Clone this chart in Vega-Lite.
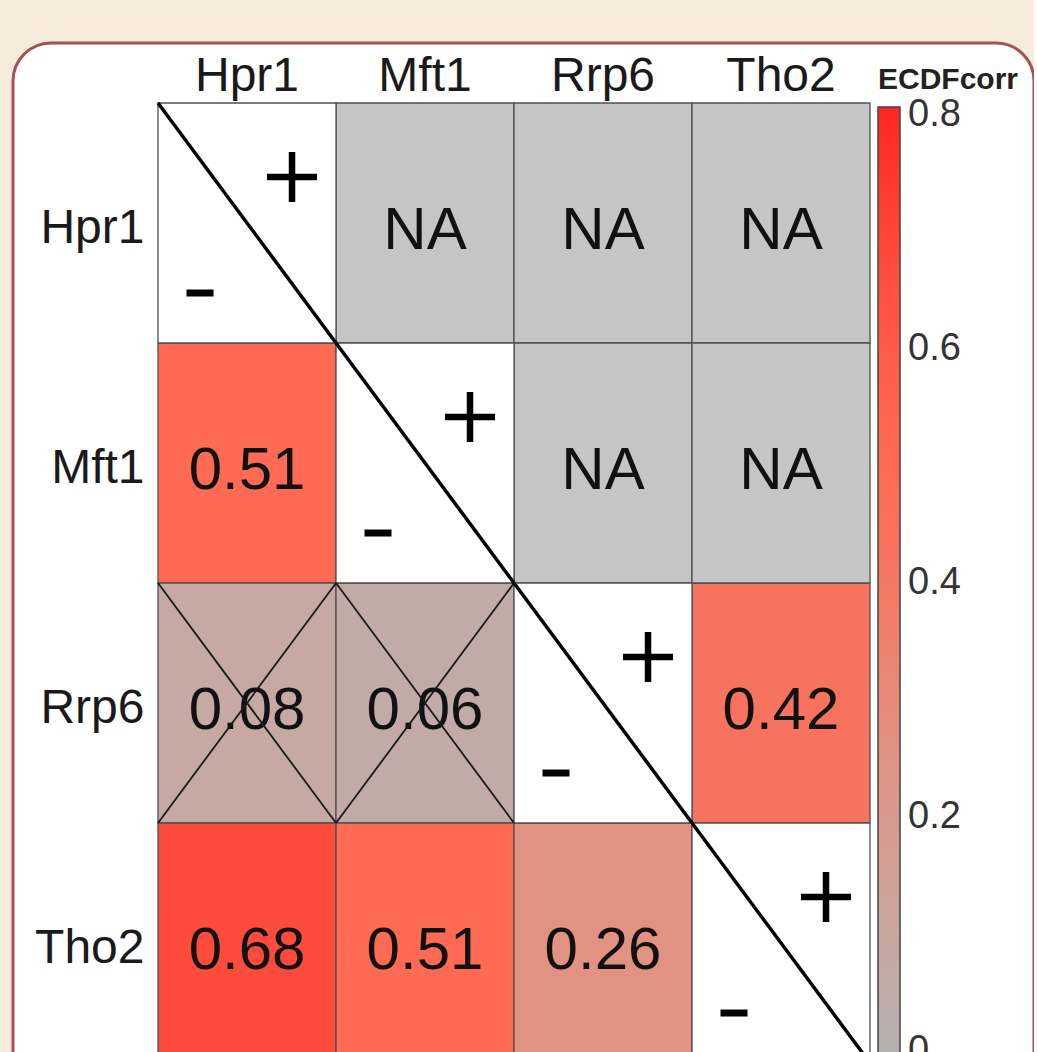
{
  "$schema": "https://vega.github.io/schema/vega-lite/v6.json",
  "background": "#f7ecdb",
  "padding": {"left": 13, "top": 43, "right": 0, "bottom": 0},
  "width": 1021,
  "height": 1049,
  "config": {
    "view": {"fill": "white", "stroke": "#a55252", "strokeWidth": 3, "cornerRadius": 38},
    "font": "Liberation Sans"
  },
  "data": {
    "values": [
      {"row": "Hpr1", "col": "Hpr1", "kind": "diag", "value": null, "text": ""},
      {"row": "Hpr1", "col": "Mft1", "kind": "na", "value": null, "text": "NA"},
      {"row": "Hpr1", "col": "Rrp6", "kind": "na", "value": null, "text": "NA"},
      {"row": "Hpr1", "col": "Tho2", "kind": "na", "value": null, "text": "NA"},
      {"row": "Mft1", "col": "Hpr1", "kind": "val", "value": 0.51, "text": "0.51"},
      {"row": "Mft1", "col": "Mft1", "kind": "diag", "value": null, "text": ""},
      {"row": "Mft1", "col": "Rrp6", "kind": "na", "value": null, "text": "NA"},
      {"row": "Mft1", "col": "Tho2", "kind": "na", "value": null, "text": "NA"},
      {"row": "Rrp6", "col": "Hpr1", "kind": "x", "value": 0.08, "text": "0.08"},
      {"row": "Rrp6", "col": "Mft1", "kind": "x", "value": 0.06, "text": "0.06"},
      {"row": "Rrp6", "col": "Rrp6", "kind": "diag", "value": null, "text": ""},
      {"row": "Rrp6", "col": "Tho2", "kind": "val", "value": 0.42, "text": "0.42"},
      {"row": "Tho2", "col": "Hpr1", "kind": "val", "value": 0.68, "text": "0.68"},
      {"row": "Tho2", "col": "Mft1", "kind": "val", "value": 0.51, "text": "0.51"},
      {"row": "Tho2", "col": "Rrp6", "kind": "val", "value": 0.26, "text": "0.26"},
      {"row": "Tho2", "col": "Tho2", "kind": "diag", "value": null, "text": ""}
    ]
  },
  "encoding": {
    "x": {
      "field": "col", "type": "nominal", "sort": ["Hpr1", "Mft1", "Rrp6", "Tho2"],
      "scale": {"paddingInner": 0, "paddingOuter": 0.868, "align": 0.4693},
      "axis": {"orient": "top", "offset": -60, "title": null, "domain": false, "ticks": false, "labelAngle": 0,
               "labelFontSize": 48, "labelPadding": 3, "labelColor": "#1a1a1a", "labelFont": "Liberation Sans", "zindex": 1}
    },
    "y": {
      "field": "row", "type": "nominal", "sort": ["Hpr1", "Mft1", "Rrp6", "Tho2"],
      "scale": {"paddingInner": 0, "paddingOuter": 0.18542, "align": 0.6742},
      "axis": {"orient": "left", "offset": -145, "title": null, "domain": false, "ticks": false,
               "labelFontSize": 48, "labelPadding": 14, "labelOffset": 6, "labelColor": "#1a1a1a", "labelFont": "Liberation Sans", "zindex": 1}
    }
  },
  "layer": [
    {
      "transform": [{"filter": "datum.kind == 'val' || datum.kind == 'x'"}],
      "mark": {"type": "rect", "stroke": "#505050", "strokeWidth": 1.3},
      "encoding": {
        "color": {
          "field": "value", "type": "quantitative",
          "scale": {"domain": [-0.005, 0.07, 0.26, 0.42, 0.51, 0.68, 0.807],
                    "range": ["#b4b2b2", "#c4aaa4", "#e19282", "#f7735e", "#fe6a53", "#ff4b3b", "#ff2621"],
                    "interpolate": "rgb"},
          "legend": {
            "orient": "none", "legendX": 865, "legendY": 22, "direction": "vertical", "padding": 0,
            "title": "ECDFcorr", "titleFontSize": 30, "titleFontWeight": "bold", "titlePadding": 12, "titleColor": "#222222",
            "titleFont": "Liberation Sans",
            "gradientLength": 950, "gradientThickness": 22, "gradientStrokeColor": "#444444", "gradientStrokeWidth": 1.5,
            "values": [0, 0.2, 0.4, 0.6, 0.8],
            "labelExpr": "datum.value == 0 ? '0' : format(datum.value, '.1f')",
            "labelFontSize": 38, "labelOffset": 8, "labelBaseline": "middle", "labelOverlap": false, "labelColor": "#333333",
            "labelFont": "Liberation Sans"
          }
        }
      }
    },
    {
      "transform": [{"filter": "datum.kind == 'na'"}],
      "mark": {"type": "rect", "fill": "#c5c5c5", "stroke": "#505050", "strokeWidth": 1.3}
    },
    {
      "transform": [{"filter": "datum.kind == 'diag'"}],
      "mark": {"type": "rect", "fill": "#ffffff", "stroke": "#505050", "strokeWidth": 1.3}
    },
    {
      "transform": [{"filter": "datum.kind != 'diag'"}],
      "mark": {"type": "text", "fontSize": 60, "dy": 8, "color": "#111111", "font": "Liberation Sans"},
      "encoding": {"text": {"field": "text", "type": "nominal"}}
    },
    {
      "transform": [{"filter": "datum.kind == 'x'"}],
      "mark": {"type": "point", "shape": "M-0.7417,-1L0.7417,1M0.7417,-1L-0.7417,1", "size": 57600,
               "filled": false, "stroke": "#1a1a1a", "strokeWidth": 1.8, "opacity": 1}
    },
    {
      "transform": [{"filter": "datum.kind == 'diag'"}],
      "mark": {"type": "point", "shape": "M-0.7417,-1L0.7417,1", "size": 57600,
               "filled": false, "stroke": "#000000", "strokeWidth": 3.5, "opacity": 1}
    },
    {
      "transform": [{"filter": "datum.kind == 'diag'"}],
      "mark": {"type": "point", "shape": "M-1,0L1,0M0,-1L0,1", "size": 2500, "xOffset": 45, "yOffset": -46,
               "filled": false, "stroke": "#000000", "strokeWidth": 6.5, "opacity": 1}
    },
    {
      "transform": [{"filter": "datum.kind == 'diag'"}],
      "mark": {"type": "point", "shape": "M-1,0L1,0", "size": 729, "xOffset": -47, "yOffset": 70,
               "filled": false, "stroke": "#000000", "strokeWidth": 7, "opacity": 1}
    }
  ]
}
